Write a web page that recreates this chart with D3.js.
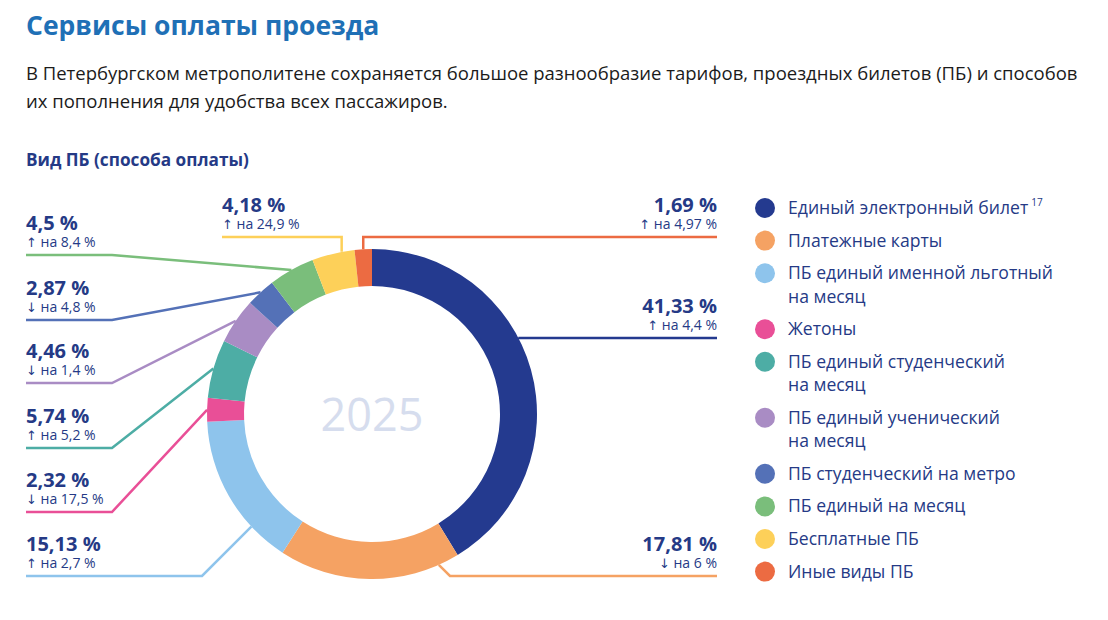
<!DOCTYPE html>
<html>
<head>
<meta charset="utf-8">
<script src="https://cdn.jsdelivr.net/npm/d3@7"></script>
<style>
  body { margin: 0; background: #fff; }
  svg { display: block; font-family: "Open Sans", "Noto Sans", sans-serif; }
</style>
</head>
<body>
<svg id="chart" width="1108" height="620"></svg>
<script>
// Data

const categories = [
    "Единый электронный билет",
    "Платежные карты",
    "ПБ единый именной льготный\nна месяц",
    "Жетоны",
    "ПБ единый студенческий\nна месяц",
    "ПБ единый ученический\nна месяц",
    "ПБ студенческий на метро",
    "ПБ единый на месяц",
    "Бесплатные ПБ",
    "Иные виды ПБ"
];
const shares = [41.33, 17.81, 15.13, 2.32, 5.74, 4.46, 2.87, 4.5, 4.18, 1.69];       // share in 2025, %
const changeDir = ["up", "down", "up", "down", "up", "down", "down", "up", "up", "up"];
const changeValues = [4.4, 6, 2.7, 17.5, 5.2, 1.4, 4.8, 8.4, 24.9, 4.97];           // change vs previous year, %
const centerYear = "2025";

// Styles and layout

const colors = ["#243a8f", "#f5a263", "#8ec4ec", "#e94f97", "#4dada5",
                "#a98cc4", "#5471b7", "#7abe7b", "#fdd059", "#ec6b42"];
const navy = "#253a86";

const cx = 372, cy = 414, rOuter = 165, rInner = 128;
const rightX = 717, leftX = 26;

// leader layout per slice: t = position inside slice, lineY = level of horizontal run,
// elbowX = where the run bends (null = straight up from the ring), endX = where the run ends
const leaders = [
    {t: 0.42,  lineY: 338, elbowX: null, endX: rightX, anchor: "end"},
    {t: 0.115, lineY: 576, elbowX: 450,  endX: rightX, anchor: "end"},
    {t: 0.26,  lineY: 576, elbowX: 202,  endX: leftX,  anchor: "start"},
    {t: 0.5,   lineY: 512, elbowX: 112,  endX: leftX,  anchor: "start"},
    {t: 0.5,   lineY: 448, elbowX: 112,  endX: leftX,  anchor: "start"},
    {t: 0.5,   lineY: 383, elbowX: 112,  endX: leftX,  anchor: "start"},
    {t: 0.5,   lineY: 320, elbowX: 112,  endX: leftX,  anchor: "start"},
    {t: 0.5,   lineY: 255, elbowX: 112,  endX: leftX,  anchor: "start"},
    {t: 0.7,   lineY: 237, elbowX: null, endX: 222,    anchor: "start"},
    {t: 0.5,   lineY: 237, elbowX: null, endX: rightX, anchor: "end"}
];

const fmt = v => String(v).replace(".", ",");

const svg = d3.select("#chart");

// Header

svg.append("text")
    .attr("x", 26).attr("y", 35)
    .attr("font-size", 26.5).attr("font-weight", 700)
    .attr("fill", "#1f70b6")
    .text("Сервисы оплаты проезда");

const intro = [
    "В Петербургском метрополитене сохраняется большое разнообразие тарифов, проездных билетов (ПБ) и способов",
    "их пополнения для удобства всех пассажиров."
];
svg.append("g").selectAll("text")
    .data(intro)
    .enter()
    .append("text")
        .attr("x", 26)
        .attr("y", (d, i) => 80 + i * 28)
        .attr("font-size", 18.5)
        .attr("fill", "#1b1b1b")
        .text(d => d);

svg.append("text")
    .attr("x", 26).attr("y", 166)
    .attr("font-size", 17.2).attr("font-weight", 700)
    .attr("fill", navy)
    .text("Вид ПБ (способа оплаты)");

// Donut

const pie = d3.pie().sort(null).value(d => d).startAngle(0).endAngle(2 * Math.PI);
const arcs = pie(shares);
const arc = d3.arc().innerRadius(rInner).outerRadius(rOuter);

const g = svg.append("g").attr("transform", "translate(" + cx + "," + cy + ")");

// Leader lines

const lineGen = d3.line();
const leaderData = arcs.map((a, i) => {
    const L = leaders[i];
    const ang = a.startAngle + L.t * (a.endAngle - a.startAngle);
    const p0 = [cx + rOuter * Math.sin(ang), cy - rOuter * Math.cos(ang)];
    const ex = L.elbowX === null ? p0[0] : L.elbowX;
    return {i: i, L: L, pts: [p0, [ex, L.lineY], [L.endX, L.lineY]]};
});

svg.insert("g", "g").selectAll("path")
    .data(leaderData)
    .enter()
    .append("path")
        .attr("d", d => lineGen(d.pts))
        .attr("fill", "none")
        .attr("stroke", d => colors[d.i])
        .attr("stroke-width", 2.5)
        .attr("stroke-linejoin", "miter");

g.selectAll("path")
    .data(arcs)
    .enter()
    .append("path")
        .attr("d", arc)
        .attr("fill", (d, i) => colors[i]);

g.append("text")
    .attr("text-anchor", "middle")
    .attr("y", 17)
    .attr("font-size", 45)
    .attr("fill", "#d6ddee")
    .text(centerYear);

// Value labels

const labels = svg.append("g").selectAll("g")
    .data(leaderData)
    .enter()
    .append("g");

labels.append("text")
    .attr("x", d => d.L.endX)
    .attr("y", d => d.L.lineY - 25)
    .attr("text-anchor", d => d.L.anchor)
    .attr("font-size", 20).attr("font-weight", 700)
    .attr("fill", navy)
    .text(d => fmt(shares[d.i]) + " %");

const sub = labels.append("text")
    .attr("x", d => d.L.endX)
    .attr("y", d => d.L.lineY - 8.5)
    .attr("text-anchor", d => d.L.anchor)
    .attr("font-size", 14)
    .attr("fill", navy);

sub.append("tspan")
    .attr("font-family", "DejaVu Sans")
    .attr("font-size", 13)
    .text(d => changeDir[d.i] === "up" ? "↑" : "↓");

sub.append("tspan")
    .text(d => " на " + fmt(changeValues[d.i]) + " %");

// Legend

let ly = 208;
const legendRows = categories.map((c, i) => {
    const lines = c.split("\n");
    const row = {i: i, lines: lines, y: ly};
    ly += 32.6 + 23.4 * (lines.length - 1);
    return row;
});

const legend = svg.append("g").selectAll("g")
    .data(legendRows)
    .enter()
    .append("g")
        .attr("transform", d => "translate(0," + d.y + ")");

legend.append("circle")
    .attr("cx", 765).attr("cy", 0).attr("r", 10)
    .attr("fill", d => colors[d.i]);

const legendText = legend.append("text")
    .attr("x", 788).attr("y", 6)
    .attr("font-size", 17.6)
    .attr("fill", navy);

legendText.selectAll("tspan")
    .data(d => d.lines)
    .enter()
    .append("tspan")
        .attr("x", 788)
        .attr("dy", (d, i) => i === 0 ? 0 : 23.4)
        .text(d => d);

// footnote mark on the first legend item
legend.filter(d => d.i === 0).select("text")
    .append("tspan")
        .attr("dx", 3).attr("dy", -8)
        .attr("font-size", 10)
        .text("17");
</script>
</body>
</html>
